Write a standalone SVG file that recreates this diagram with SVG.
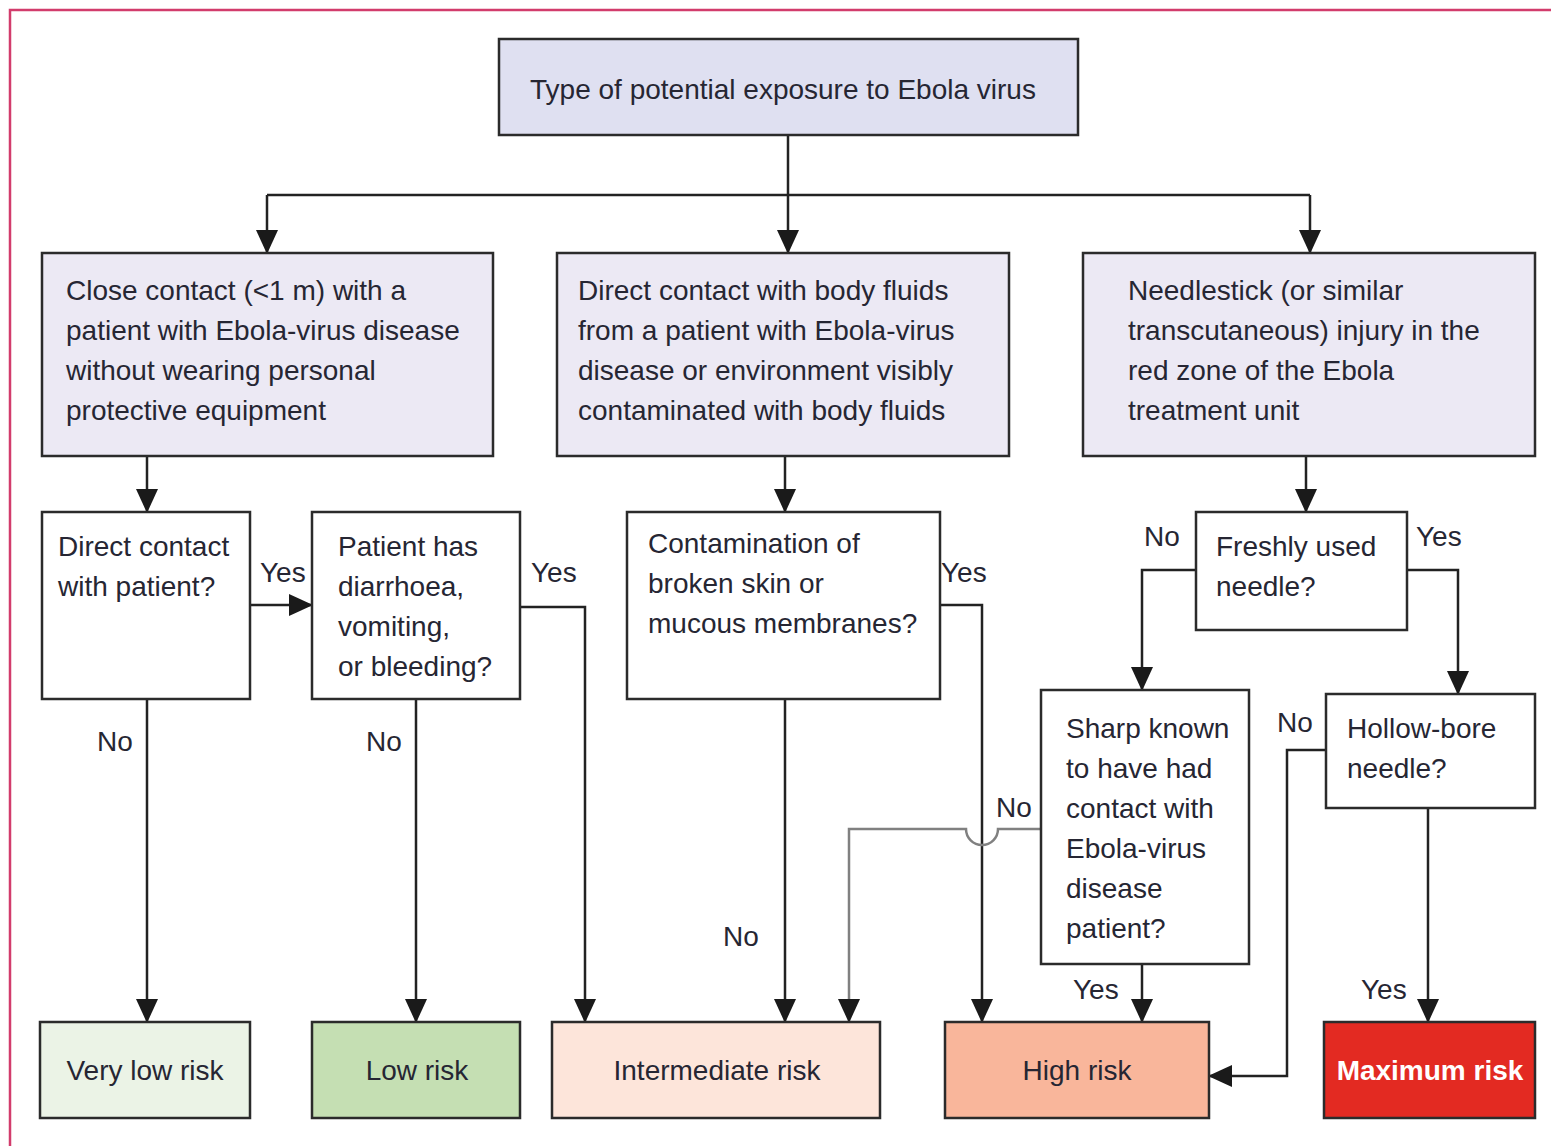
<svg xmlns="http://www.w3.org/2000/svg" width="1551" height="1146" viewBox="0 0 1551 1146">
<defs>
<style>
text{font-family:"Liberation Sans",Arial,sans-serif;font-size:28px;fill:#262633}
.box{stroke:#2b2b2b;stroke-width:2.5}
.q{fill:#ffffff}
.top{fill:#dfe0f1}
.mid{fill:#ece9f4}
.c{text-anchor:middle}
.con{fill:none;stroke:#222;stroke-width:2.5}
.grey{stroke:#808080}
.lbl{font-size:28px}
</style>
<marker id="ah" markerUnits="userSpaceOnUse" markerWidth="24" markerHeight="24" viewBox="0 0 24 24" refX="22" refY="12" orient="auto">
<path d="M0,1 L24,12 L0,23 Z" fill="#1a1a1a"/>
</marker>
</defs>
<rect width="1551" height="1146" fill="#ffffff"/>
<path d="M10,1146 V10 H1551" fill="none" stroke="#d23c6c" stroke-width="2.5"/>

<g id="connectors">
<path class="con" d="M788,135 V195"/>
<path class="con" d="M267,195 H1310"/>
<path class="con" d="M267,195 V252" marker-end="url(#ah)"/>
<path class="con" d="M788,195 V252" marker-end="url(#ah)"/>
<path class="con" d="M1310,195 V252" marker-end="url(#ah)"/>
<path class="con" d="M147,456 V511" marker-end="url(#ah)"/>
<path class="con" d="M785,456 V511" marker-end="url(#ah)"/>
<path class="con" d="M1306,456 V511" marker-end="url(#ah)"/>
<path class="con" d="M250,605 H311" marker-end="url(#ah)"/>
<path class="con" d="M147,699 V1021" marker-end="url(#ah)"/>
<path class="con" d="M416,699 V1021" marker-end="url(#ah)"/>
<path class="con" d="M520,607 H585 V1021" marker-end="url(#ah)"/>
<path class="con" d="M785,699 V1021" marker-end="url(#ah)"/>
<path class="con" d="M940,605 H982 V1021" marker-end="url(#ah)"/>
<path class="con grey" d="M1041,829 H998 A16,16 0 0 1 966,829 H849 V1021" marker-end="url(#ah)"/>
<path class="con" d="M1142,964 V1021" marker-end="url(#ah)"/>
<path class="con" d="M1196,570 H1142 V689" marker-end="url(#ah)"/>
<path class="con" d="M1407,570 H1458 V693" marker-end="url(#ah)"/>
<path class="con" d="M1326,750 H1287 V1076 H1210" marker-end="url(#ah)"/>
<path class="con" d="M1428,808 V1021" marker-end="url(#ah)"/>
<text class="lbl" x="260" y="582">Yes</text>
<text class="lbl" x="97" y="751">No</text>
<text class="lbl" x="366" y="751">No</text>
<text class="lbl" x="531" y="582">Yes</text>
<text class="lbl" x="723" y="946">No</text>
<text class="lbl" x="941" y="582">Yes</text>
<text class="lbl" x="996" y="817">No</text>
<text class="lbl" x="1073" y="999">Yes</text>
<text class="lbl" x="1144" y="546">No</text>
<text class="lbl" x="1416" y="546">Yes</text>
<text class="lbl" x="1277" y="732">No</text>
<text class="lbl" x="1361" y="999">Yes</text>
</g>

<g id="n-type">
<rect class="box top" x="499" y="39" width="579" height="96"/>
<text x="783" y="99" class="c">Type of potential exposure to Ebola virus</text>
</g>

<g id="n-close">
<rect class="box mid" x="42" y="253" width="451" height="203"/>
<text x="66" y="300">Close contact (&lt;1 m) with a</text>
<text x="66" y="340">patient with Ebola-virus disease</text>
<text x="66" y="380">without wearing personal</text>
<text x="66" y="420">protective equipment</text>
</g>

<g id="n-fluids">
<rect class="box mid" x="557" y="253" width="452" height="203"/>
<text x="578" y="300">Direct contact with body fluids</text>
<text x="578" y="340">from a patient with Ebola-virus</text>
<text x="578" y="380">disease or environment visibly</text>
<text x="578" y="420">contaminated with body fluids</text>
</g>

<g id="n-needlestick">
<rect class="box mid" x="1083" y="253" width="452" height="203"/>
<text x="1128" y="300">Needlestick (or similar</text>
<text x="1128" y="340">transcutaneous) injury in the</text>
<text x="1128" y="380">red zone of the Ebola</text>
<text x="1128" y="420">treatment unit</text>
</g>

<g id="n-direct">
<rect class="box q" x="42" y="512" width="208" height="187"/>
<text x="58" y="556">Direct contact</text>
<text x="58" y="596">with patient?</text>
</g>

<g id="n-patient">
<rect class="box q" x="312" y="512" width="208" height="187"/>
<text x="338" y="556">Patient has</text>
<text x="338" y="596">diarrhoea,</text>
<text x="338" y="636">vomiting,</text>
<text x="338" y="676">or bleeding?</text>
</g>

<g id="n-contam">
<rect class="box q" x="627" y="512" width="313" height="187"/>
<text x="648" y="553">Contamination of</text>
<text x="648" y="593">broken skin or</text>
<text x="648" y="633">mucous membranes?</text>
</g>

<g id="n-fresh">
<rect class="box q" x="1196" y="512" width="211" height="118"/>
<text x="1216" y="556">Freshly used</text>
<text x="1216" y="596">needle?</text>
</g>

<g id="n-sharp">
<rect class="box q" x="1041" y="690" width="208" height="274"/>
<text x="1066" y="738">Sharp known</text>
<text x="1066" y="778">to have had</text>
<text x="1066" y="818">contact with</text>
<text x="1066" y="858">Ebola-virus</text>
<text x="1066" y="898">disease</text>
<text x="1066" y="938">patient?</text>
</g>

<g id="n-hollow">
<rect class="box q" x="1326" y="694" width="209" height="114"/>
<text x="1347" y="738">Hollow-bore</text>
<text x="1347" y="778">needle?</text>
</g>

<g id="n-verylow">
<rect class="box" fill="#ebf3e6" x="40" y="1022" width="210" height="96"/>
<text x="145" y="1080" class="c">Very low risk</text>
</g>

<g id="n-low">
<rect class="box" fill="#c5dfb3" x="312" y="1022" width="208" height="96"/>
<text x="417" y="1080" class="c">Low risk</text>
</g>

<g id="n-intermediate">
<rect class="box" fill="#fde5da" x="552" y="1022" width="328" height="96"/>
<text x="717" y="1080" class="c">Intermediate risk</text>
</g>

<g id="n-high">
<rect class="box" fill="#f9b69b" x="945" y="1022" width="264" height="96"/>
<text x="1077" y="1080" class="c">High risk</text>
</g>

<g id="n-maximum">
<rect class="box" fill="#e32a22" x="1324" y="1022" width="211" height="96"/>
<text x="1430" y="1080" class="c" style="fill:#ffffff;font-weight:bold">Maximum risk</text>
</g>
</svg>
